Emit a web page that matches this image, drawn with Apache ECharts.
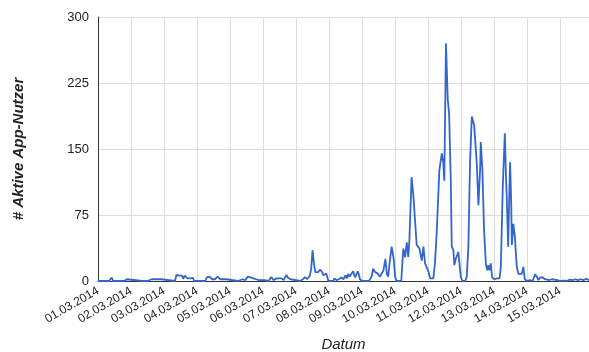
<!DOCTYPE html>
<html>
<head>
<meta charset="utf-8">
<script src="https://cdn.jsdelivr.net/npm/echarts@6/dist/echarts.min.js"></script>
<style>
html,body{margin:0;padding:0;background:#fff;}
#c{width:589px;height:352px;}
</style>
</head>
<body>
<div id="c"></div>
<script>
// hours since 01.03.2014 00:00
const hours = [0,8,10,11,17,18,19,21,22,
32,33,34,35,36,39,40,42,43,46,47,
56,57,58,59,60,61,62,63,64,65,66,67,68,69,70,
78,79,80,81,82,83,84,85,86,87,88,89,90,93,94,
102,103,105,107,109,111,113,115,116,117,118,121,122,
124,126,127.5,130,131,133.5,135,137,138,139,140,141,
147,149,150.5,152,153,154,155,156,157,158,159,160,161.5,163,164,166,167.5,
169,170,171,172,173.5,175,176,177,178.5,180,181,182,183,184,185.5,187,188,189,190.5,192,
195,196,197,198,199,200,201.5,203,204,205,206,207.5,209,210,211,212,213.5,215,216,217,
220.5,221.5,222,223.3,224.5,225.6,226.4,228,229.3,230.5,231.7,233.7,235.4,236.6,237.8,240.2,241.5,243.8,
245,246.3,247,248.2,250,251,251.8,253,254.3,255.3,256.5,257.2,258.4,259.1,260.1,260.9,262,262.8,263.8,265,267,
268.1,269.3,270.5,271.8,272.5,273.5,274.2,275.4,276.6,277.8,278.3,279.5,280.7,282,283,283.8,284.6,285.6,286.5,288,290,292,
292.9,294.3,295.8,296.7,297.2,298.2,299.6,300.4,300.9,302,303,304.5,305.7,306.9,308.1,309.3,310.3,311.8,314,316,
317.8,319,320.2,321.5,322.5,323.5,325,326,328,330,331,334,336,339,341,343,345,347,349,351,353,355,357];
const users = [0,0,4,0,0,2,0,2,0,
0,2,0,2,0,2,0,2,0,2,0,
0,7,7.5,6,7,6,2.5,6,5,3,1.5,3,4.5,3.5,0,
0,4,5,5,4,2,0,2,1,5,3,2,0,2,0,
0,1,2,1,5,4,3,2,4,1,1,1,0,
0,4.5,1,3,1,3,1,7,4,6,2,0,
0,2,4.5,2,4,6,14,35,20,10,12,10,13,10,6.5,8.5,0,
0,2,0,3,1,2,1,4,2,6.5,3,8,5,6,11,4,8,11,2,0,
0,1.5,0,2,5,14,10,9,11,5,3,12,25,8,5,20,39,25,5,0,
0,25,37,27,44,27,46,118,97,99,41,37,23,39,20,11,3,3,
20,56,58,126,145,135,114,270,206,190,115,39,35,18,25,24,33,20,4.5,0,0,
5,39,134,187,183,177,175,134,86,126,158,126,58,20,12,18,12,20,4.5,2,3,3,
16,107,168,115,96,39,135,92,41,65,52,16,8,6,8,16,2,0,1,0,
7.5,5,1,4,3,4,2,2.5,1,2,0,1,0,0.5,0,1.5,1,2,1,2,1,2.5,1];
const startDay = 1;
const yTicks = [0, 75, 150, 225, 300];

const series = hours.map((h, i) => [h, users[i]]);
const chart = echarts.init(document.getElementById('c'), null, {renderer: 'canvas'});
const font = 'Arial, "Liberation Sans", sans-serif';
chart.setOption({
  animation: false,
  grid: {left: 98, right: 0, top: 17, bottom: 71, containLabel: false, outerBoundsMode: 'none'},
  xAxis: {
    type: 'value', min: 0, max: 357, interval: 24,
    name: 'Datum', nameLocation: 'middle', nameGap: 56,
    nameTextStyle: {fontFamily: font, fontSize: 15, fontStyle: 'italic', color: '#222'},
    axisLine: {show: true, lineStyle: {color: '#333', width: 1}},
    axisTick: {show: false},
    axisLabel: {
      rotate: 30, fontFamily: font, fontSize: 12, color: '#222', margin: 9,
      showMaxLabel: false,
      formatter: v => { const d = Math.round(v / 24) + startDay; return (d < 10 ? '0' + d : d) + '.03.2014'; }
    },
    splitLine: {show: true, lineStyle: {color: '#ddd', width: 1}}
  },
  yAxis: {
    type: 'value', min: yTicks[0], max: yTicks[yTicks.length - 1], interval: 75,
    name: '# Aktive App-Nutzer', nameLocation: 'middle', nameGap: 72,
    nameTextStyle: {fontFamily: font, fontSize: 15, fontStyle: 'italic', fontWeight: 'bold', color: '#222'},
    axisLine: {show: true, lineStyle: {color: '#333', width: 1}},
    axisTick: {show: false},
    axisLabel: {fontFamily: font, fontSize: 13, color: '#222', margin: 9},
    splitLine: {show: true, lineStyle: {color: '#ddd', width: 1}}
  },
  series: [{
    type: 'line', data: series, showSymbol: false, smooth: false,
    lineStyle: {color: '#3366cc', width: 1.8},
    itemStyle: {color: '#3366cc'}
  }]
});
</script>
</body>
</html>
